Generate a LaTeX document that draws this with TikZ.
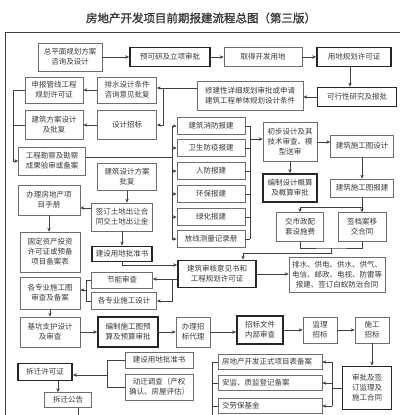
\documentclass[tikz,border=0pt]{standalone}
\usepackage{fontspec}
\setmainfont{Noto Sans CJK SC}
\newfontfamily\titlefont[FakeBold=1.6]{Noto Sans CJK SC}
\usepackage{xcolor}
\usetikzlibrary{arrows.meta}
\definecolor{ink}{HTML}{3A3A3A}
\definecolor{edge}{HTML}{6E6E6E}
\tikzset{
  sz/.style 2 args={minimum width=#1pt,minimum height=#2pt},
  box/.style={draw=edge,line width=0.6pt,fill=white,text=ink,align=center,inner sep=1pt,
              font=\fontsize{7.5}{10}\selectfont},
  keybox/.style={box,draw=black!85,line width=1.8pt},
  link/.style={draw=black!75,line width=0.6pt},
}

\begin{document}
\begin{tikzpicture}[x=1pt,y=-1pt,>={Stealth[length=4pt,width=3.4pt]}]
\useasboundingbox (0,0) rectangle (400,415);
\node[text=ink,font=\titlefont\fontsize{11.5}{14}\selectfont] (title) at (201,18)
  {房地产开发项目前期报建流程总图（第三版）};
\draw[link] (5,415) -- (5,32) -- (400,32);

% top row
\node[box,sz={64}{28}] (zpm) at (70,57) {总平面规划方案\\咨询及设计};
\node[keybox,sz={80}{19}] (yky) at (170,57) {预可研及立项审批};
\node[box,sz={78}{19}] (qdyd) at (263,57) {取得开发用地};
\node[keybox,sz={74}{19}] (ydxk) at (354,57) {用地规划许可证};
\node[keybox,sz={79}{19}] (kxx) at (357,97) {可行性研究及报批};
\node[box,sz={106}{29}] (xjx) at (250,96) {修建性详细规划审批或申请\\建筑工程单体规划设计条件};
\node[box,sz={58}{26}] (gxsb) at (54,90) {申报管线工程\\规划许可证};
\node[box,sz={59}{26}] (psj) at (127,90) {排水设计条件\\咨询意见批复};
\node[box,sz={58}{29}] (jzfa) at (54,125) {建筑方案设计\\及批复};
\node[box,sz={59}{29}] (sjzb) at (127,125) {设计招标};
\node[box,sz={67}{28}] (gckc) at (52,161) {工程勘察及勘察\\成果验审或备案};

\draw[link,->] (zpm) -- (yky);
\draw[link,->] (yky) -- (qdyd);
\draw[link,->] (qdyd) -- (ydxk);
\draw[link,->] ([xshift=-4pt]ydxk.south) -- ([xshift=-4pt]ydxk.south |- kxx.north);
\draw[link,->] (kxx.west) -- (kxx.west -| xjx.east);
\coordinate (j1) at (163,88);
\draw[link] (xjx.west |- j1) -- (j1);
\draw[link,->] (j1) -- (j1 -| psj.east);
\draw[link,->] (j1) |- (sjzb.east);
\draw[link,->] (psj) -- (gxsb);
\draw[link,->] (sjzb) -- (jzfa);
\coordinate (j2) at (13,90);
\draw[link,->] (gxsb.west) -- (j2) |- (gckc.west);
\draw[link] (jzfa.west) -- (jzfa.west -| j2);

% reports
\foreach \n/\y/\t in {xf/126/建筑消防报建, ws/148/卫生防疫报建, rf/171/人防报建,
                      hb/194/环保报建, lh/217/绿化报建, fx/239/放线测量记录册}
  \node[box,sz={68}{17}] (\n) at (211,\y) {\t};
\coordinate (bl) at (172,157);
\coordinate (br) at (250,139);
\draw[link] (xf.west -| bl) -- (fx.west -| bl);
\draw[link] (xf.east -| br) -- (fx.east -| br);
\foreach \n in {xf,ws,rf,hb,lh,fx} {
  \draw[link,->] (\n.west -| bl) -- (\n.west);
  \draw[link] (\n.east) -- (\n.east -| br);
}
\draw[link] (gckc.east |- bl) -- (bl);

% right column
\node[box,sz={54}{39}] (cb) at (290,142) {初步设计及其\\技术审查、模\\型送审};
\node[box,sz={63}{22}] (sgsj) at (362,146) {建筑施工图设计};
\node[keybox,sz={54}{28}] (gs) at (290,188) {编制设计概算\\及概算审批};
\node[box,sz={63}{18}] (sgbj) at (362,188) {建筑施工图报建};
\node[box,sz={47}{29}] (szf) at (300,227) {交市政配\\套设施费};
\node[box,sz={48}{29}] (dah) at (362,227) {签档案移\\交合同};
\node[keybox,sz={78}{27}] (sh) at (217,274) {建筑审核意见书和\\工程规划许可证};
\node[box,sz={96}{35}] (pbj) at (337,275) {排水、供电、供水、供气、\\电信、邮政、电视、防雷等\\报建、签订白蚁防治合同};

\draw[link,->] (br) -- (br -| cb.west);
\draw[link,->] (cb.east) -- (cb.east -| sgsj.west);
\draw[link,->] (cb.south) -- (gs.north);
\draw[link,->] (sgsj.south) -- (sgbj.north);
\coordinate (t1) at (362,207);
\draw[link,->] (sgbj.south) -- (t1) -| (szf.north);
\draw[link,->] (t1) -- (dah.north);
\coordinate (t2) at (331,248);
\coordinate (t3) at (243,253);
\draw[link] (szf.south) |- (t2) -| (dah.south);
\draw[link,->] (t2) |- (t3) -- (t3 |- sh.north);
\draw[link,->] (sh.east) -- (sh.east -| pbj.west);

% left column
\node[box,sz={59}{27}] (fapf) at (127,177) {建筑设计方案\\批复};
\node[box,sz={61}{28}] (crht) at (122,217) {签订土地出让合\\同交土地出让金};
\node[keybox,sz={60}{15}] (pzs) at (122,254) {建设用地批准书};
\node[box,sz={62}{30}] (scs) at (49,200) {办理房地产项\\目手册};
\node[box,sz={60}{40}] (gdzc) at (50,252) {固定资产投资\\许可证或预备\\项目备案表};
\node[box,sz={60}{32}] (sgt) at (50,293) {各专业施工图\\审查及备案};
\node[box,sz={61}{16}] (jn) at (122,280) {节能审查};
\node[box,sz={65}{17}] (zysj) at (124,301) {各专业施工设计};

\draw[link,->] (fapf.south) -- (fapf.south |- crht.north);
\draw[link,->] ([yshift=9pt]crht.west) -- ([yshift=9pt]crht.west -| scs.east);
\draw[link,->] (crht.south) -- (pzs.north);
\draw[link,->] (scs.south) -- (scs.south |- gdzc.north);
\draw[link,->] (pzs.south) |- ([yshift=9pt]sh.west);
\coordinate (j5) at (172,279);
\draw[link] ([yshift=-5pt]sh.west) -- (j5);
\draw[link,->] (j5) -- (j5 -| jn.east);
\draw[link,->] (j5) |- (zysj.east);
\coordinate (j6) at (86,290);
\draw[link] (jn.west) -| (j6);
\draw[link] (zysj.west) -| (j6);
\draw[link,->] (j6) -- (j6 -| sgt.east);

% tender row
\node[box,sz={60}{30}] (jk) at (50,332) {基坑支护设计\\及审查};
\node[keybox,sz={60}{30}] (ys) at (128,332) {编制施工图预\\算及预算审批};
\node[box,sz={34}{30}] (dl) at (193,332) {办理招\\标代理};
\node[keybox,sz={46}{28}] (zbwj) at (260,330) {招标文件\\内部审查};
\node[box,sz={34}{26}] (jl) at (320,330) {监理\\招标};
\node[box,sz={34}{26}] (sg) at (372,330) {施工\\招标};

\draw[link,->] (sgt.south) -- (jk.north);
\draw[link,->] (jk) -- (ys);
\draw[link,->] (ys) -- (dl);
\draw[link,->] (dl.east) -- (dl.east -| zbwj.west);
\draw[link,->] (zbwj) -- (jl);
\draw[link,->] (jl) -- (sg);

% contracts and filings
\node[keybox,sz={49}{43}] (spqd) at (367,388) {审批及签\\订监理及\\施工合同};
\foreach \n/\y/\t in {ba/362/房地产开发正式项目表备案, aj/383/安监、质监登记备案, lb/406/交劳保基金}
  \node[box,sz={104}{15},text width=96pt,align=left] (\n) at (270,\y) {\t};

\draw[link,->] (sg.south) -- (sg.south |- spqd.north);
\coordinate (j7) at (332,388);
\draw[link] (spqd.west) -- (j7);
\draw[link] (ba.east -| j7) -- (lb.east -| j7);
\foreach \n in {ba,aj,lb} \draw[link,->] (\n.east -| j7) -- (\n.east);
\coordinate (j8) at (212,415);
\draw[link] (ba.west) -| (j8);
\draw[link] (aj.west) -- (aj.west -| j8);
\draw[link] (lb.west) -- (lb.west -| j8);

% demolition
\node[box,sz={68}{16}] (pzs2) at (159,360) {建设用地批准书};
\node[box,sz={68}{26}] (dq) at (159,387) {动迁调查（产权\\确认、房屋评估）};
\node[keybox,sz={54}{17}] (cq) at (45,372) {拆迁许可证};
\node[box,sz={47}{15}] (gg) at (68,400) {拆迁公告};

\coordinate (j9) at (107,375);
\draw[link] (pzs2.west) -| (j9);
\draw[link] (dq.west) -| (j9);
\draw[link,->] (j9) -- (j9 -| cq.east);
\draw[link,->] ([xshift=13pt]cq.south) -- ([xshift=13pt]cq.south |- gg.north);
\draw[link] ([xshift=10pt]gg.south) -- ([xshift=10pt]gg.south |- j8);
\end{tikzpicture}
\end{document}
